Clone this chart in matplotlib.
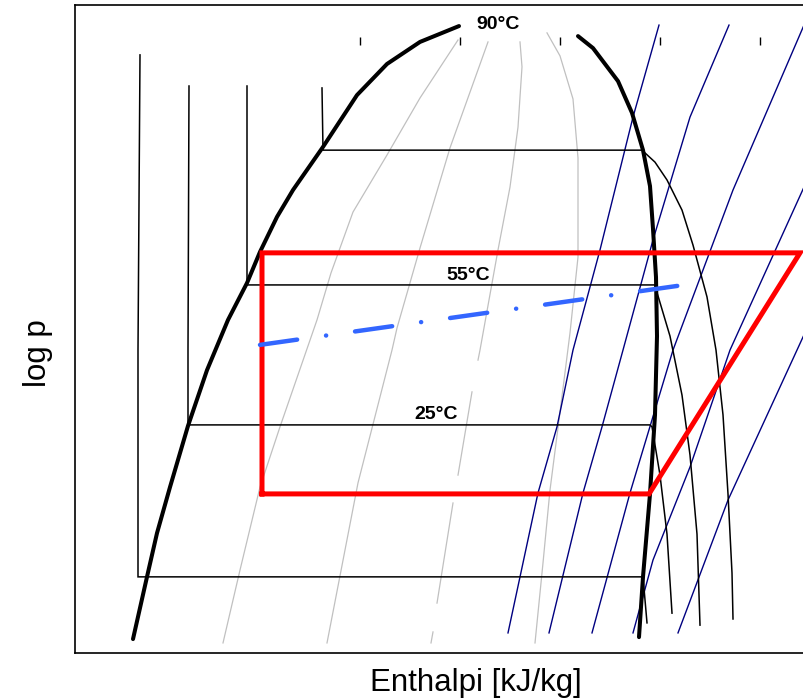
import numpy as np
import matplotlib
matplotlib.use("Agg")
import matplotlib.pyplot as plt

plt.rcParams['font.family'] = ['Liberation Sans', 'DejaVu Sans']
plt.rcParams['lines.scale_dashes'] = False
plt.rcParams['lines.solid_joinstyle'] = 'round'

# saturation dome: enthalpy [kJ/kg] and log10 p
liq_h = [136.5, 143.5, 148.5, 155, 164, 173.5, 184, 193.5, 200, 208.5, 216.5,
         231.5, 248.5, 263.5, 280, 299.5]
liq_lp = [0.043, 0.235, 0.370, 0.512, 0.701, 0.873, 1.028, 1.142, 1.238, 1.346, 1.429,
          1.562, 1.722, 1.818, 1.886, 1.935]
vap_h = [359, 366.5, 379, 386, 391.5, 395, 396.5, 398, 398.5, 397.5, 395, 391.5, 389.5]
vap_lp = [1.904, 1.867, 1.765, 1.667, 1.552, 1.441, 1.309, 1.160, 0.978, 0.735, 0.491,
          0.235, 0.049]

# isotherms (liquid leg, two-phase plateau, vapour leg)
iso_h = [
    [140, 139, 139, 391, 391.5, 393.5],
    [164.5, 164, 164, 395, 396, 400, 403.5, 406],
    [193.5, 193.5, 397.5, 398, 405, 411, 415, 418.5, 420],
    [231, 231.5, 391, 397.5, 403.5, 411, 416.5, 423.5, 428, 431.5, 434, 436, 436.5],
]
iso_lp = [
    [1.846, 0.935, 0.235, 0.235, 0.235, 0.093],
    [1.750, 0.935, 0.704, 0.704, 0.698, 0.549, 0.367, 0.123],
    [1.750, 1.136, 1.136, 1.123, 0.978, 0.796, 0.611, 0.367, 0.086],
    [1.744, 1.552, 1.552, 1.515, 1.460, 1.367, 1.259, 1.099, 0.935, 0.735, 0.491, 0.247, 0.105],
]
iso_labels = ["90°C", "55°C", "25°C"]
iso_label_h = [319, 304, 288]
iso_label_lp = [1.941, 1.164, 0.735]

# lines of constant vapour quality
qual_h = [
    [299, 280, 263.5, 246.5, 235.5, 228.5, 210, 200, 190, 181.5],
    [314, 305, 295, 280, 268.5, 266, 249, 233.5],
    [330, 331, 329, 325, 319, 310, 309, np.nan, 306, 299, np.nan,
     296.5, 288.5, np.nan, 286.5, 285.5],
    [343.5, 350, 356.5, 359, 359, 355, 349.5, 345, 341.5, 337.5],
]
qual_lp = [
    [1.892, 1.713, 1.537, 1.361, 1.173, 1.028, 0.698, 0.512, 0.256, 0.031],
    [1.886, 1.731, 1.559, 1.250, 1.003, 0.935, 0.525, 0.031],
    [1.886, 1.809, 1.623, 1.438, 1.244, 0.935, 0.904, np.nan, 0.806, 0.549, np.nan,
     0.463, 0.154, np.nan, 0.065, 0.031],
    [1.914, 1.843, 1.710, 1.528, 1.222, 0.988, 0.719, 0.503, 0.278, 0.031],
]

# isentropes
ent_h = [
    [324, 339, 348.5, 356.5, 370, 386.5, 399.5],
    [344.5, 361.5, 371, 381.5, 396.5, 415, 434.5],
    [366, 385, 406.5, 436.5, 472],
    [386.5, 396.5, 415, 435, 472, 506],
    [409, 434, 468.5, 508.5],
]
ent_lp = [
    [0.062, 0.494, 0.698, 0.935, 1.244, 1.654, 1.938],
    [0.062, 0.494, 0.698, 0.935, 1.275, 1.654, 1.938],
    [0.062, 0.494, 0.935, 1.429, 1.938],
    [0.062, 0.287, 0.574, 0.935, 1.438, 1.923],
    [0.062, 0.472, 0.935, 1.472],
]

# refrigeration cycle
cyc_h = [201, 201, 470, 394.5, 201]
cyc_lp = [0.491, 1.235, 1.235, 0.491, 0.491]

# intermediate pressure line
mid_h = [200, 419]
mid_lp = [0.951, 1.142]

# short marks along the top
mark_h = [250, 300, 350, 400, 450]

fig = plt.figure(figsize=(8.04, 6.99), dpi=100)
ax = fig.add_axes([75 / 804, 46 / 699, 802 / 804, 648 / 699])

for h, lp in zip(qual_h, qual_lp):
    ax.plot(h, lp, color='#c0c0c0', lw=0.9)
for h, lp in zip(ent_h, ent_lp):
    ax.plot(h, lp, color='#000080', lw=1.0)
for h, lp in zip(iso_h, iso_lp):
    ax.plot(h, lp, color='black', lw=1.1, solid_joinstyle='miter')

ax.plot(liq_h, liq_lp, color='black', lw=2.9, solid_capstyle='round')
ax.plot(vap_h, vap_lp, color='black', lw=2.9, solid_capstyle='round')

ax.vlines(mark_h, 1.877, 1.901, color='black', lw=1.0)

for txt, h, lp in zip(iso_labels, iso_label_h, iso_label_lp):
    ax.text(h, lp, txt, fontsize=14, fontweight='bold', ha='center', va='center')

ax.plot(cyc_h, cyc_lp, color='red', lw=3.6, solid_joinstyle='miter')
ax.plot(mid_h, mid_lp, color='#3366ff', lw=3.2, dash_capstyle='round',
        linestyle=(0, (27, 21, 0.1, 21)))

ax.set_xlim(107.5, 508.5)
ax.set_ylim(0, 2.0)
ax.set_xticks([])
ax.set_yticks([])
for sp in ax.spines.values():
    sp.set_linewidth(1.2)

ax.set_xlabel('Enthalpi [kJ/kg]', fontsize=22.5, va='center')
ax.xaxis.set_label_coords(0.5, -0.047)
ax.set_ylabel('log p', fontsize=22.5, va='center')
ax.yaxis.set_label_coords(-0.046, 0.463)

fig.savefig('out.png', dpi=100)
